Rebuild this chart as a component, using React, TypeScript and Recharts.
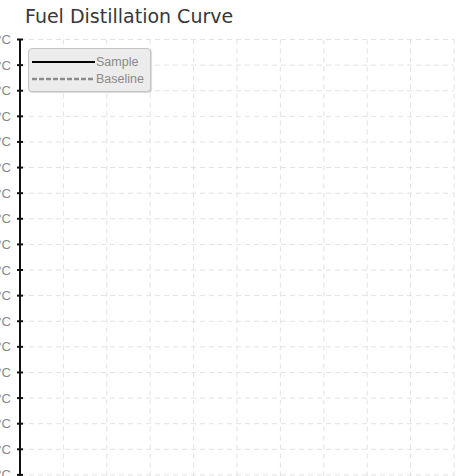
import { LineChart, Line, XAxis, YAxis, CartesianGrid, Legend } from 'recharts';

// % recovered vs temperature
const recovered = [0, 10, 20, 30, 40, 50, 60, 70, 80, 90, 100];
const sampleTemp = [176, 204, 221, 237, 251, 265, 280, 296, 315, 337, 359];
const baselineTemp = [170, 199, 217, 232, 246, 260, 275, 291, 309, 330, 352];
const tempTicks = [
    0, 20, 40, 60, 80, 100, 120, 140, 160, 180, 200, 220, 240, 260, 280, 300, 320, 340, 360, 380,
    400, 420, 440, 460, 480, 500, 520, 540, 560, 580, 600, 620, 640, 660, 680, 700, 720, 740, 760, 780, 800,
];
const recoveredTicks = [0, 10, 20, 30, 40, 50, 60, 70, 80, 90, 100];
const seriesNames = ['Sample', 'Baseline'];

const chartData = recovered.map((r, i) => ({
    recovered: r,
    sample: sampleTemp[i],
    baseline: baselineTemp[i],
}));

const AXIS_X = 80;
const labelFont = "'Liberation Sans Narrow', 'Liberation Sans', Arial, sans-serif";

const seriesStyle: Record<string, { stroke: string; dash?: string; width: number }> = {
    Sample: { stroke: '#000', width: 2 },
    Baseline: { stroke: '#8c8c8c', dash: '5 2', width: 2.5 },
};

function TempTick(props: any) {
    const { y, payload } = props;
    return (
        <g>
            <line x1={AXIS_X - 3} x2={AXIS_X + 3} y1={y} y2={y} stroke="#111" strokeWidth={2} />
            <text x={AXIS_X - 9} y={y} dy={4.5} textAnchor="end" fill="#888" fontSize={13} fontFamily={labelFont}>
                {payload.value} °C
            </text>
        </g>
    );
}

function LegendBox(props: any) {
    const items = props.payload || [];
    const ordered = seriesNames.filter((n) => items.some((it: any) => it.value === n));
    return (
        <div
            style={{
                width: 123,
                height: 44,
                boxSizing: 'border-box',
                background: '#ececec',
                border: '1px solid #c4c4c4',
                borderRadius: 4,
                boxShadow: '1px 1px 1px rgba(0,0,0,0.15)',
                paddingTop: 4,
            }}
        >
            {ordered.map((name) => {
                const s = seriesStyle[name];
                return (
                    <div key={name} style={{ display: 'flex', alignItems: 'center', height: 17, paddingLeft: 3 }}>
                        <svg width={63} height={6}>
                            <line x1={0} x2={63} y1={3} y2={3} stroke={s.stroke} strokeWidth={s.width} strokeDasharray={s.dash} />
                        </svg>
                        <span style={{ fontFamily: labelFont, fontSize: 12.5, color: '#8a8a8a', marginLeft: 1 }}>{name}</span>
                    </div>
                );
            })}
        </div>
    );
}

export default function App() {
    return (
        <div
            style={{
                position: 'fixed',
                left: 0,
                top: 0,
                width: 458,
                height: 476,
                overflow: 'hidden',
                background: '#fff',
            }}
        >
            <div
                style={{
                    position: 'absolute',
                    left: 25,
                    top: 5,
                    fontFamily: "'DejaVu Sans', Verdana, sans-serif",
                    fontSize: 19,
                    color: '#383838',
                    whiteSpace: 'nowrap',
                }}
            >
                Fuel Distillation Curve
            </div>
            <div style={{ position: 'absolute', left: -60, top: 0 }}>
                <LineChart
                    width={524}
                    height={1144}
                    data={chartData}
                    margin={{ top: 39.5, right: 10, left: 0, bottom: 40 }}
                >
                    <CartesianGrid stroke="#e2e2e2" strokeDasharray="5 4" />
                    <XAxis
                        dataKey="recovered"
                        type="number"
                        domain={[0, 100]}
                        ticks={recoveredTicks}
                        axisLine={false}
                        tickLine={false}
                        tick={() => <g />}
                        height={40}
                    />
                    <YAxis
                        type="number"
                        domain={[0, 800]}
                        ticks={tempTicks}
                        width={80}
                        axisLine={{ stroke: '#111', strokeWidth: 2 }}
                        tickLine={false}
                        tick={<TempTick />}
                        interval={0}
                    />
                    <Legend
                        layout="horizontal"
                        verticalAlign="middle"
                        align="center"
                        wrapperStyle={{ left: 88, top: 48, width: 123 }}
                        content={<LegendBox />}
                    />
                    <Line
                        type="monotone"
                        dataKey="sample"
                        name="Sample"
                        stroke="#000"
                        strokeWidth={2}
                        dot={false}
                        isAnimationActive={false}
                    />
                    <Line
                        type="monotone"
                        dataKey="baseline"
                        name="Baseline"
                        stroke="#8c8c8c"
                        strokeWidth={2.5}
                        strokeDasharray="5 2"
                        dot={false}
                        isAnimationActive={false}
                    />
                </LineChart>
            </div>
        </div>
    );
}
